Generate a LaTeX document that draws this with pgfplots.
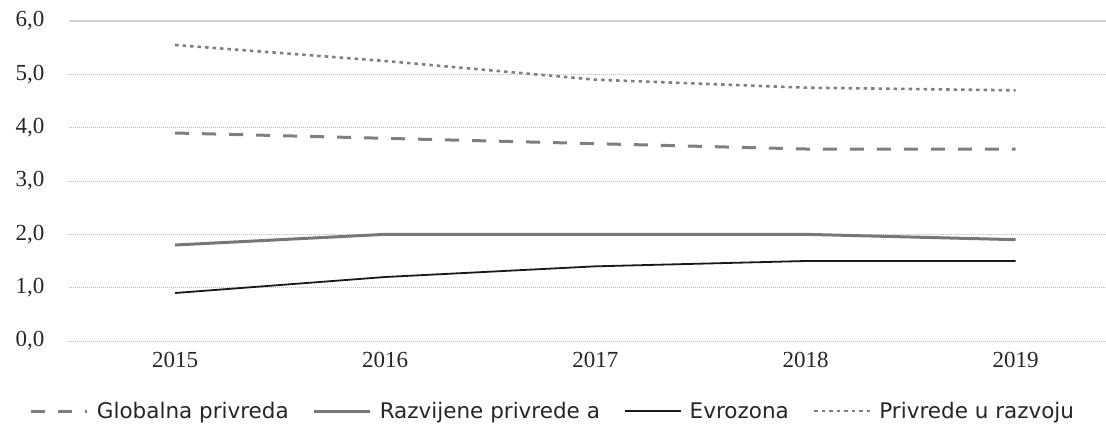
\documentclass[border=0pt]{standalone}
\usepackage{fontspec}
\setmainfont{Liberation Serif}
\newfontfamily\legfont{DejaVu Sans}
\usepackage{pgfplots}
\pgfplotsset{compat=1.18}
\definecolor{gline}{HTML}{7F7F7F}
\definecolor{gsolid}{HTML}{777777}
\definecolor{gridc}{HTML}{BDBDBD}
\begin{document}
\begin{tikzpicture}
\useasboundingbox (-69pt,-85pt) rectangle (1037pt,341pt);
\begin{axis}[
  scale only axis,
  width=1037pt, height=320pt,
  xmin=-0.505, xmax=4.43,
  ymin=0, ymax=6,
  xtick={0,1,2,3,4},
  xticklabels={2015,2016,2017,2018,2019},
  ytick={0,1,2,3,4,5},
  yticklabels={0{,}0,1{,}0,2{,}0,3{,}0,4{,}0,5{,}0},
  extra y ticks={6},
  extra y tick labels={6{,}0},
  extra y tick style={grid style={solid, draw=gridc!70, line width=1.4pt}},
  ymajorgrids,
  grid style={draw=gridc, line width=0.8pt, dash pattern=on 1pt off 1pt},
  axis line style={draw=none},
  tick style={draw=none},
  ticklabel style={font=\fontsize{23}{25}\selectfont, text=black!85},
  yticklabel style={xshift=-21pt},
  xticklabel style={yshift=-8pt},
  legend columns=4,
  legend style={
    at={(rel axis cs:0,0)}, anchor=center,
    xshift=484pt, yshift=-70pt,
    draw=none, fill=none,
    font=\legfont\fontsize{21.5}{23}\selectfont,
    text=black!85,
    /tikz/every even column/.append style={column sep=22pt},
    /tikz/every odd column/.append style={column sep=6pt},
  },
  legend image code/.code={\draw[#1] (0pt,0pt) -- (56pt,0pt);},
]
\addplot[gline, line width=3pt, dash pattern=on 14pt off 13pt] coordinates {
  (0,3.9) (1,3.8) (2,3.7) (3,3.6) (4,3.6)};
\addlegendentry{Globalna privreda}
\addplot[gsolid, line width=3pt] coordinates {
  (0,1.8) (1,2.0) (2,2.0) (3,2.0) (4,1.9)};
\addlegendentry{Razvijene privrede a}
\addplot[black!90, line width=1.8pt] coordinates {
  (0,0.9) (1,1.2) (2,1.4) (3,1.5) (4,1.5)};
\addlegendentry{Evrozona}
\addplot[gline, line width=2.6pt, dash pattern=on 3.5pt off 4pt] coordinates {
  (0,5.55) (1,5.25) (2,4.9) (3,4.75) (4,4.7)};
\addlegendentry{Privrede u razvoju}
\end{axis}
\end{tikzpicture}
\end{document}
